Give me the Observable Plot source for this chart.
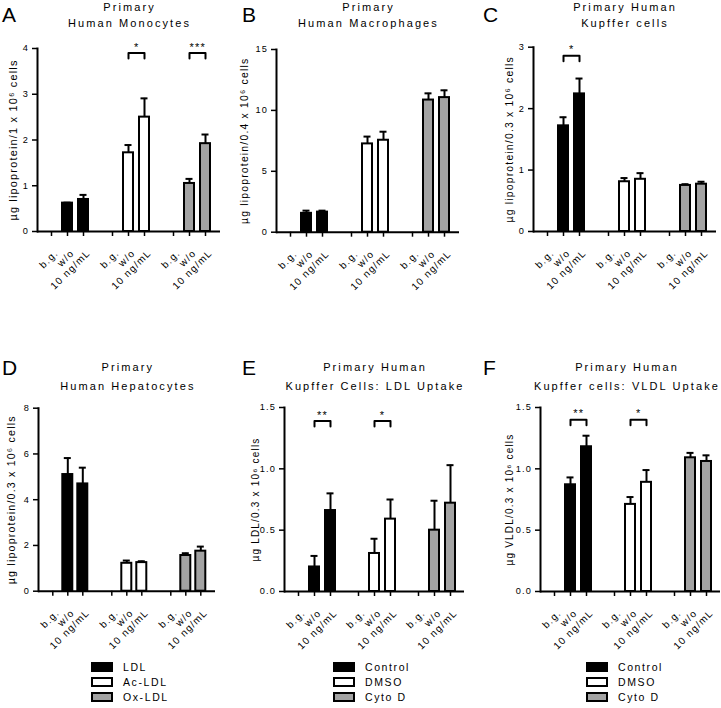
<!DOCTYPE html>
<html><head><meta charset="utf-8">
<script src="https://cdn.jsdelivr.net/npm/d3@7"></script>
<script src="https://cdn.jsdelivr.net/npm/@observablehq/plot@0.6"></script>
<style>
body{margin:0;background:#fff;}
#root{position:relative;width:721px;height:708px;overflow:hidden;font-family:"Liberation Sans",Arial,Helvetica,sans-serif;color:#000;background:#fff;}
.panel{position:absolute;}
.title{position:absolute;width:300px;font-size:11px;letter-spacing:2.1px;text-align:center;white-space:nowrap;}
.letter{position:absolute;font-size:21px;line-height:21px;}
.legend{position:absolute;font-size:10.5px;letter-spacing:1.6px;}
.legend .row{position:absolute;left:0;height:10px;width:140px;white-space:nowrap;}
.sw{position:absolute;left:0;top:0;width:18px;height:6px;border:2px solid #000;}
.lt{position:absolute;left:32px;top:-2px;line-height:14px;}
</style></head><body><div id="root"></div><script>
// ---------- data ----------
const conditions = ["b.g.", "w/o", "10 ng/mL"];
const lipoproteins = ["LDL", "Ac-LDL", "Ox-LDL"];
const inhibitors = ["Control", "DMSO", "Cyto D"];
const seriesFills = ["#000000", "#ffffff", "#a3a3a3"];

// means and SEM, [series][condition]
const monoMean = [[0, 0.62, 0.70], [0, 1.72, 2.50], [0, 1.05, 1.92]];
const monoSem  = [[0, 0.01, 0.10], [0, 0.17, 0.41], [0, 0.10, 0.20]];
const macMean  = [[0, 1.55, 1.65], [0, 7.25, 7.55], [0, 10.85, 11.05]];
const macSem   = [[0, 0.22, 0.12], [0, 0.60, 0.70], [0, 0.55, 0.60]];
const kupMean  = [[0, 1.72, 2.24], [0, 0.81, 0.85], [0, 0.75, 0.77]];
const kupSem   = [[0, 0.14, 0.25], [0, 0.06, 0.10], [0, 0.02, 0.04]];
const hepMean  = [[0, 5.10, 4.69], [0, 1.22, 1.25], [0, 1.56, 1.75]];
const hepSem   = [[0, 0.72, 0.71], [0, 0.12, 0.06], [0, 0.10, 0.20]];
const ldlMean  = [[0, 0.20, 0.66], [0, 0.31, 0.59], [0, 0.50, 0.72]];
const ldlSem   = [[0, 0.09, 0.14], [0, 0.12, 0.16], [0, 0.24, 0.31]];
const vldlMean = [[0, 0.87, 1.18], [0, 0.71, 0.89], [0, 1.09, 1.06]];
const vldlSem  = [[0, 0.06, 0.09], [0, 0.06, 0.10], [0, 0.04, 0.05]];

// significance brackets (w/o vs 10 ng/mL)
const monoSig = [{g: "Ac-LDL", label: "*", level: 3.9}, {g: "Ox-LDL", label: "***", level: 3.9}];
const macSig = [];
const kupSig = [{g: "LDL", label: "*", level: 2.86}];
const hepSig = [];
const ldlSig = [{g: "Control", label: "**", level: 1.39}, {g: "DMSO", label: "*", level: 1.39}];
const vldlSig = [{g: "Control", label: "**", level: 1.40}, {g: "DMSO", label: "*", level: 1.40}];

// y ticks
const monoTicks = [0, 1, 2, 3, 4];
const macTicks = [0, 5, 10, 15];
const kupTicks = [0, 1, 2, 3];
const hepTicks = [0, 2, 4, 6, 8];
const uptakeTicks = [0, 0.5, 1.0, 1.5];

// titles / labels
const titles = {
  A: ["Primary", "Human Monocytes"],
  B: ["Primary", "Human Macrophages"],
  C: ["Primary Human", "Kupffer cells"],
  D: ["Primary", "Human Hepatocytes"],
  E: ["Primary Human", "Kupffer Cells: LDL Uptake"],
  F: ["Primary Human", "Kupffer cells: VLDL Uptake"]
};
const yLabels = {
  A: "µg lipoprotein/1 x 10⁶ cells",
  B: "µg lipoprotein/0.4 x 10⁶ cells",
  C: "µg lipoprotein/0.3 x 10⁶ cells",
  D: "µg lipoprotein/0.3 x 10⁶ cells",
  E: "µg LDL/0.3 x 10⁶ cells",
  F: "µg VLDL/0.3 x 10⁶ cells"
};

// ---------- layout ----------
const PAD_IN = 0.36, PAD_OUT = 0.53;
const panels = [
  {id: "A", groups: lipoproteins, mean: monoMean, sem: monoSem, sig: monoSig, yMax: 4, ticks: monoTicks, fmt: d3.format("d"),
   left: 0, top: 0, width: 240, axisX: 36, frameRight: 221, yTop: 48, yZero: 231, labelOffset: 28, labelSize: 10.9, letterX: 2},
  {id: "B", groups: lipoproteins, mean: macMean, sem: macSem, sig: macSig, yMax: 15, ticks: macTicks, fmt: d3.format("d"),
   left: 236, top: 0, width: 244, axisX: 276, frameRight: 459, yTop: 49, yZero: 231.7, labelOffset: 35.5, labelSize: 10.4, letterX: 242},
  {id: "C", groups: lipoproteins, mean: kupMean, sem: kupSem, sig: kupSig, yMax: 3, ticks: kupTicks, fmt: d3.format("d"),
   left: 480, top: 0, width: 241, axisX: 532, frameRight: 716, yTop: 46.7, yZero: 231, labelOffset: 27.5, labelSize: 10.4, letterX: 483},
  {id: "D", groups: lipoproteins, mean: hepMean, sem: hepSem, sig: hepSig, yMax: 8, ticks: hepTicks, fmt: d3.format("d"),
   left: 0, top: 340, width: 240, axisX: 37.7, frameRight: 216, yTop: 407.7, yZero: 590.7, labelOffset: 31, labelSize: 10.6, letterX: 2, legendX: 91},
  {id: "E", groups: inhibitors, mean: ldlMean, sem: ldlSem, sig: ldlSig, yMax: 1.5, ticks: uptakeTicks, fmt: d3.format(".1f"),
   left: 240, top: 340, width: 240, axisX: 284, frameRight: 464, yTop: 407, yZero: 591, labelOffset: 33, labelSize: 10, letterX: 242, legendX: 333},
  {id: "F", groups: inhibitors, mean: vldlMean, sem: vldlSem, sig: vldlSig, yMax: 1.5, ticks: uptakeTicks, fmt: d3.format(".1f"),
   left: 480, top: 340, width: 241, axisX: 539, frameRight: 720, yTop: 407, yZero: 591, labelOffset: 34.5, labelSize: 10, letterX: 483, legendX: 586, titleCx: 626}
];
const SVG_H = 300;
const root = document.getElementById("root");

function renderPanel(p) {
  const rows = [];
  p.groups.forEach((g, gi) => conditions.forEach((c, ci) => {
    rows.push({g, c, v: p.mean[gi][ci], e: p.sem[gi][ci]});
  }));
  const bars = rows.filter(d => d.v > 0);
  const drop = p.yMax * 0.03;
  const brackets = p.sig.flatMap((s, i) => [
    {g: s.g, c: conditions[1], y: s.level - drop, id: i},
    {g: s.g, c: conditions[1], y: s.level, id: i},
    {g: s.g, c: conditions[2], y: s.level, id: i},
    {g: s.g, c: conditions[2], y: s.level - drop, id: i}
  ]);
  const frameW = p.frameRight - p.axisX;
  const step = frameW / 3 / (3 - PAD_IN + 2 * PAD_OUT);
  const chart = Plot.plot({
    width: p.width, height: SVG_H,
    marginLeft: p.axisX - p.left,
    marginRight: p.left + p.width - p.frameRight,
    marginTop: p.yTop - p.top,
    marginBottom: p.top + SVG_H - p.yZero,
    style: {background: "transparent", overflow: "visible", fontFamily: "'Liberation Sans', Arial, sans-serif", fontSize: "10px", letterSpacing: "1.2px", color: "#000"},
    fx: {domain: p.groups, padding: 0, axis: null, label: null},
    x: {domain: conditions, paddingInner: PAD_IN, paddingOuter: PAD_OUT, label: null},
    y: {domain: [0, p.yMax], label: null},
    color: {domain: p.groups, range: seriesFills},
    marks: [
      Plot.barY(bars, {fx: "g", x: "c", y: "v", fill: "g", stroke: "#000", strokeWidth: 2}),
      Plot.ruleX(bars, {fx: "g", x: "c", y1: "v", y2: d => d.v + d.e, stroke: "#000", strokeWidth: 2}),
      Plot.tickY(bars, {fx: "g", x: "c", y: d => d.v + d.e, stroke: "#000", strokeWidth: 2, insetLeft: 1.5, insetRight: 1.5}),
      Plot.line(brackets, {fx: "g", x: "c", y: "y", z: "id", stroke: "#000", strokeWidth: 2}),
      Plot.text(p.sig, {fx: "g", x: () => conditions[1], y: "level", text: "label", dx: step / 2, dy: -6, fontSize: 11, fill: "#000"}),
      Plot.ruleY([0], {stroke: "#000", strokeWidth: 2}),
      Plot.frame({anchor: "left", facetAnchor: "left", stroke: "#000", strokeWidth: 2}),
      Plot.axisY({ticks: p.ticks, tickFormat: p.fmt, tickSize: 5, tickPadding: 3.5, fontSize: 9.2, letterSpacing: "0.8px", strokeWidth: 1.5, label: null}),
      Plot.axisY({ticks: [], tickSize: 0, fontSize: p.labelSize,
        label: yLabels[p.id], labelAnchor: "center", labelOffset: p.labelOffset, labelArrow: false}),
      Plot.axisX({tickSize: 5, text: null, strokeWidth: 1.5, label: null}),
      Plot.axisX({tickRotate: -45, tickSize: 0, tickPadding: 20, dx: 5, fontSize: 10, letterSpacing: "1.3px", label: null})
    ]
  });
  const wrap = document.createElement("div");
  wrap.className = "panel";
  wrap.style.left = p.left + "px";
  wrap.style.top = p.top + "px";
  wrap.appendChild(chart);
  root.appendChild(wrap);

  // title
  const cx = p.titleCx != null ? p.titleCx : (p.axisX + p.frameRight) / 2;
  const t = document.createElement("div");
  t.className = "title";
  const lh = p.top === 0 ? 16.7 : 18.3;
  t.style.lineHeight = lh + "px";
  t.style.left = (cx - 150 + 1) + "px";
  t.style.top = (p.top === 0 ? -1.5 : 358.9 - (lh - 17) / 2) + "px";
  t.innerHTML = titles[p.id].map(s => `<div>${s}</div>`).join("");
  root.appendChild(t);

  // panel letter
  const l = document.createElement("div");
  l.className = "letter";
  l.textContent = p.id;
  l.style.left = p.letterX + "px";
  l.style.top = (p.top === 0 ? 4.2 : 357.2) + "px";
  root.appendChild(l);

  // legend below bottom-row panels
  if (p.legendX != null) {
    const lg = document.createElement("div");
    lg.className = "legend";
    lg.style.left = p.legendX + "px";
    lg.style.top = "662px";
    p.groups.forEach((g, i) => {
      const r = document.createElement("div");
      r.className = "row";
      r.style.top = (i * 15) + "px";
      r.innerHTML = `<div class="sw" style="background:${seriesFills[i]}"></div><div class="lt">${g}</div>`;
      lg.appendChild(r);
    });
    root.appendChild(lg);
  }
}
panels.forEach(renderPanel);
</script></body></html>
